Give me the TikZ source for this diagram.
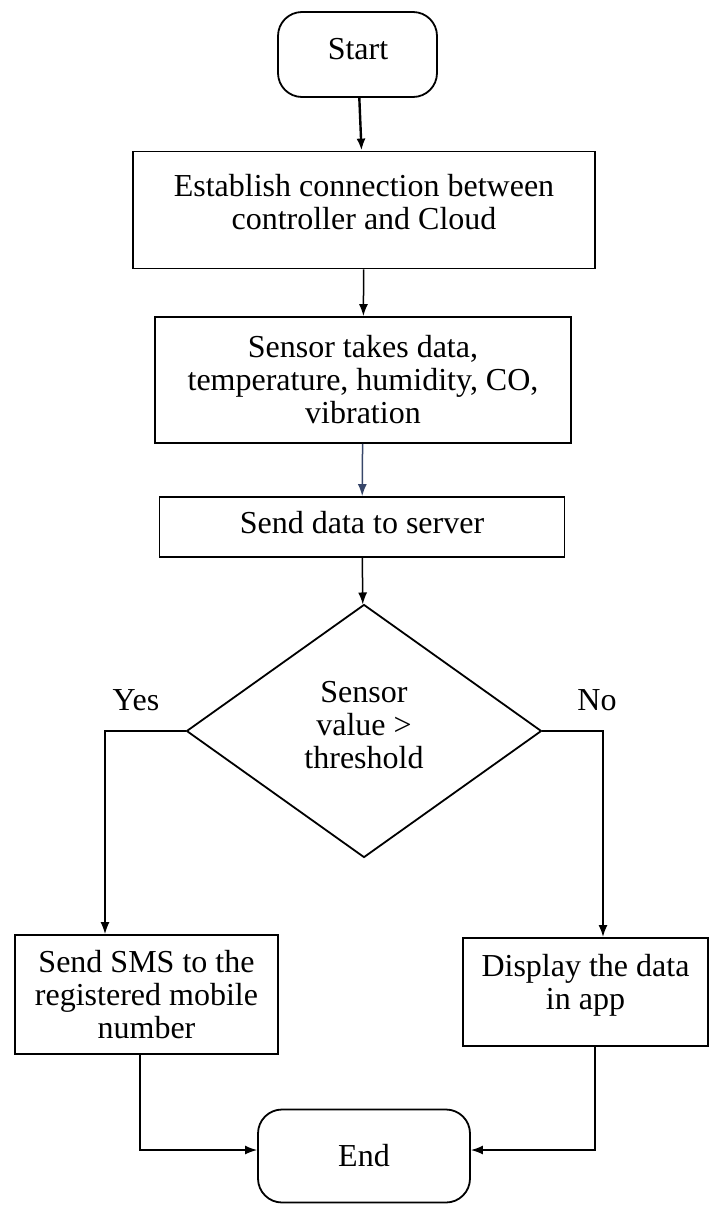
\documentclass[tikz,border=0pt]{standalone}
\usepackage{fontspec}
\setmainfont{Liberation Serif}
\usetikzlibrary{shapes.geometric,arrows.meta}
\begin{document}
\begin{tikzpicture}[x=0.5pt,y=-0.5pt,
		font=\fontsize{16}{16.5}\selectfont,
		box/.style={draw,line width=0.9pt,align=center,inner sep=0pt},
		term/.style={box,rounded corners=12pt},
		dec/.style={draw,line width=0.9pt,diamond,align=center,inner sep=0pt},
		arr/.style={line width=0.75pt,-{Latex[length=6pt,width=4.5pt]}}]
			\useasboundingbox (0,0) rectangle (710,1205);
			\node [term,minimum width=79.5pt,minimum height=42.5pt] (start) at (357.5,54.5) {};
			\node (startlbl) at (358,49) {Start};
			\node [box,minimum width=231pt,minimum height=58.5pt] (conn) at (364,210) {};
			\node [align=center] (connlbl) at (364,202) {Establish connection between\\controller and Cloud};
			\node [box,minimum width=208pt,minimum height=63pt] (sense) at (363,380) {Sensor takes data,\\temperature, humidity, CO,\\vibration};
			\node [box,minimum width=202.5pt,minimum height=30pt] (send) at (362,527) {};
			\node (sendlbl) at (362,523) {Send data to server};
			\node [dec,minimum width=177.5pt,minimum height=126.5pt] (check) at (364,731) {};
			\node [align=center] (checklbl) at (364,725) {Sensor\\value >\\threshold};
			\node [box,minimum width=131.5pt,minimum height=59.5pt] (sms) at (146.5,994.5) {Send SMS to the\\registered mobile\\number};
			\node [box,minimum width=122.5pt,minimum height=54pt] (disp) at (585.5,992) {};
			\node [align=center] (displbl) at (585.5,985) {Display the data\\in app};
			\node [term,minimum width=106pt,minimum height=46.5pt] (end) at (364,1156) {End};
			\node (yes) at (136,700) {Yes};
			\node (no) at (597,700) {No};
			\coordinate (ycorner) at (105,731);
			\coordinate (ncorner) at (603,731);
			\coordinate (ydown) at (140,1150);
			\coordinate (ndown) at (595,1150);
			\draw [arr,line width=1.2pt] (start) -- (conn);
			\draw [arr] (conn) -- (sense);
			\draw [arr,color={rgb,255:red,55;green,70;blue,105}] (sense) -- (send);
			\draw [arr] (send) -- (check);
			\draw [arr] (check.west) -- (ycorner) -- (ycorner |- sms.north);
			\draw [arr,line width=1pt] (check.east) -- (ncorner) -- (ncorner |- disp.north);
			\draw [arr] (ydown |- sms.south) -- (ydown) -- (ydown -| end.west);
			\draw [arr] (ndown |- disp.south) -- (ndown) -- (ndown -| end.east);
		\end{tikzpicture}
\end{document}
